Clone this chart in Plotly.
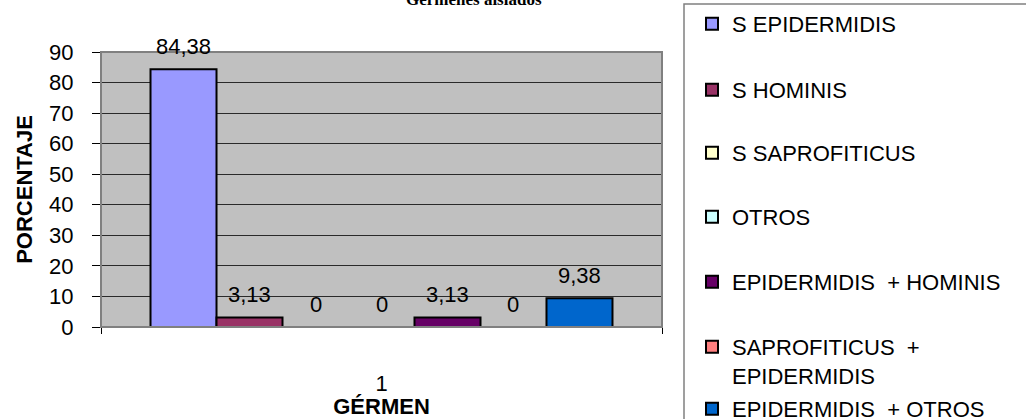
import plotly.graph_objects as go

# Porcentaje de gérmenes aislados, por tipo
category = ["1"]
series_names = [
    "S EPIDERMIDIS",
    "S HOMINIS",
    "S SAPROFITICUS",
    "OTROS",
    "EPIDERMIDIS  + HOMINIS",
    "SAPROFITICUS  +<br>EPIDERMIDIS",
    "EPIDERMIDIS  + OTROS",
]
series_values = [84.38, 3.13, 0, 0, 3.13, 0, 9.38]
series_colors = ["#9999FF", "#993366", "#FFFFCC", "#CCFFFF", "#660066", "#FF8080", "#0066CC"]
y_ticks = [0, 10, 20, 30, 40, 50, 60, 70, 80, 90]

FONT = "Arial, Liberation Sans, sans-serif"
W, H = 1026, 419
M_L, M_R, M_T, M_B = 101, 364, 52, 92
PLOT_W = W - M_L - M_R
PLOT_H = H - M_T - M_B
BARGAP = 0.1765


def px_x(px):
    return (px - M_L) / PLOT_W


def px_y(py):
    return (H - M_B - py) / PLOT_H


fig = go.Figure()
n = len(series_names)
for i, (name, val, col) in enumerate(zip(series_names, series_values, series_colors)):
    lg = "legend" if i == 0 else f"legend{i + 1}"
    fig.add_trace(go.Bar(
        x=category, y=[val], name=name,
        marker=dict(color=col, line=dict(color="black", width=2)),
        legend=lg,
    ))

# value labels above each bar (x given as the category's index so "1" is not read as a position)
bar_w = PLOT_W * (1 - BARGAP) / n
cat_pos = category.index(category[0])
for i, val in enumerate(series_values):
    fig.add_annotation(
        x=cat_pos, y=val, xref="x", yref="y",
        text=f"{val:g}".replace(".", ","),
        showarrow=False, yanchor="bottom",
        xshift=(i - (n - 1) / 2) * bar_w, yshift=8,
        font=dict(family=FONT, size=22, color="black"),
    )

# partially visible chart title at the top edge
fig.add_annotation(
    x=px_x(474), y=px_y(11), xref="paper", yref="paper",
    text="<b>Gérmenes aislados</b>", showarrow=False, yanchor="bottom",
    font=dict(family="Liberation Serif, Times New Roman, serif", size=17, color="black"),
)

# plot-area frame and legend box
fig.add_shape(type="rect", xref="paper", yref="paper", x0=0, y0=0, x1=1, y1=1,
              line=dict(color="#808080", width=2), layer="above")
fig.add_shape(type="rect", xref="paper", yref="paper",
              x0=px_x(684), y0=px_y(460), x1=px_x(1040), y1=px_y(4),
              line=dict(color="#808080", width=1.5))

legend_rows = [24, 90, 153, 217, 282, 347, 409]
legends = {}
for i, row in enumerate(legend_rows):
    key = "legend" if i == 0 else f"legend{i + 1}"
    multiline = "<br>" in series_names[i]
    legends[key] = dict(
        x=px_x(692), xanchor="left",
        y=px_y(row - 21) if multiline else px_y(row), yanchor="top" if multiline else "middle",
        valign="top",
        bgcolor="rgba(0,0,0,0)", borderwidth=0,
        font=dict(family=FONT, size=22, color="black"),
        itemwidth=30,
    )

fig.update_layout(
    width=W, height=H,
    margin=dict(l=M_L, r=M_R, t=M_T, b=M_B, autoexpand=False),
    paper_bgcolor="white", plot_bgcolor="#C0C0C0",
    barmode="group", bargap=BARGAP, bargroupgap=0,
    showlegend=True,
    font=dict(family=FONT, size=22, color="black"),
    **legends,
)

fig.update_yaxes(
    range=[0, 90], tickvals=y_ticks, ticks="outside", ticklen=8, tickcolor="black",
    showgrid=True, gridcolor="#2a2a2a", gridwidth=1,
    showline=True, linecolor="black", linewidth=1,
    zeroline=False, ticklabelstandoff=14, automargin=False,
    tickfont=dict(family=FONT, size=22, color="black"),
    title=dict(text="<b>PORCENTAJE</b>", font=dict(family=FONT, size=22, color="black"), standoff=10),
)
fig.update_xaxes(
    type="category", range=[-0.5, 0.5], tickson="boundaries", ticks="outside", ticklen=6,
    tickcolor="black",
    showline=True, linecolor="black", linewidth=1, showgrid=False,
    ticklabelstandoff=37, automargin=False,
    tickfont=dict(family=FONT, size=22, color="black"),
    title=dict(text="<b>GÉRMEN</b>", font=dict(family=FONT, size=22, color="black"), standoff=12),
)

fig.write_html("out.html")
